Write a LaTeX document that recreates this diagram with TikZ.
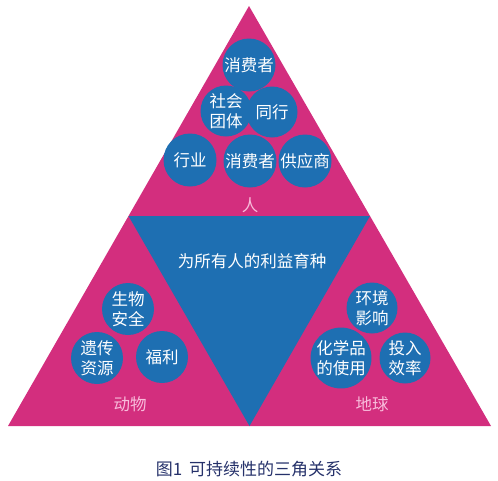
\documentclass[tikz,border=0pt]{standalone}
\usepackage{fontspec}
\usetikzlibrary{calc}
\newfontfamily\cjk{Noto Sans CJK SC}
\definecolor{pinkT}{HTML}{D32E7E}
\definecolor{blueT}{HTML}{1E6FB2}
\definecolor{lpink}{HTML}{F8BCDB}
\definecolor{capc}{HTML}{25316A}
\begin{document}
\begin{tikzpicture}[x=1pt,y=-1pt,
  bub/.style={circle,fill=blueT,minimum size=#1,inner sep=0pt,text=white,align=center,
    font=\cjk\fontsize{16.5}{20.5}\selectfont},
  bub/.default=53pt,
  lab/.style={text=lpink,font=\cjk\fontsize{16.5}{19}\selectfont,inner sep=0pt},
]
\useasboundingbox (0,0) rectangle (498,480);
\coordinate (A) at (249,6);
\coordinate (L) at (8,426);
\coordinate (R) at (491,426);
\fill[pinkT] (A) -- (L) -- (R) -- cycle;
\fill[blueT] ($(A)!0.5!(L)$) -- ($(A)!0.5!(R)$) -- ($(L)!0.5!(R)$) -- cycle;
% top triangle
\node[bub] (c1) at (249,65) {消费者};
\node[bub=51pt] (c2) at (226,111) {社会\\团体};
\node[bub=51pt] (c3) at (272,112) {同行};
\node[bub] (c4) at (190,160) {行业};
\node[bub] (c5) at (250,161) {消费者};
\node[bub] (c6) at (305,161) {供应商};
\node[lab] (ren) at (250,205) {人};
% center
\node[text=white,font=\cjk\fontsize{16.5}{19}\selectfont,inner sep=0pt] (ctr) at (252,261) {为所有人的利益育种};
% bottom left
\node[bub=52pt] (d1) at (128,309) {生物\\安全};
\node[bub=52pt] (d2) at (97,358) {遗传\\资源};
\node[bub=52pt] (d3) at (162,357) {福利};
\node[lab] (dw) at (130,404) {动物};
% bottom right
\node[bub=51pt] (e1) at (372,308) {环境\\影响};
\node[bub=52pt] (e2) at (341,358) {化学品\\的使用};
\node[bub=51pt] (e3) at (405,358) {投入\\效率};
\node[lab] (dq) at (372,404) {地球};
% caption
\node[text=capc,font=\cjk\fontsize{17}{20}\selectfont,inner sep=0pt] (cap) at (249,469) {图1\, 可持续性的三角关系};
\end{tikzpicture}
\end{document}
